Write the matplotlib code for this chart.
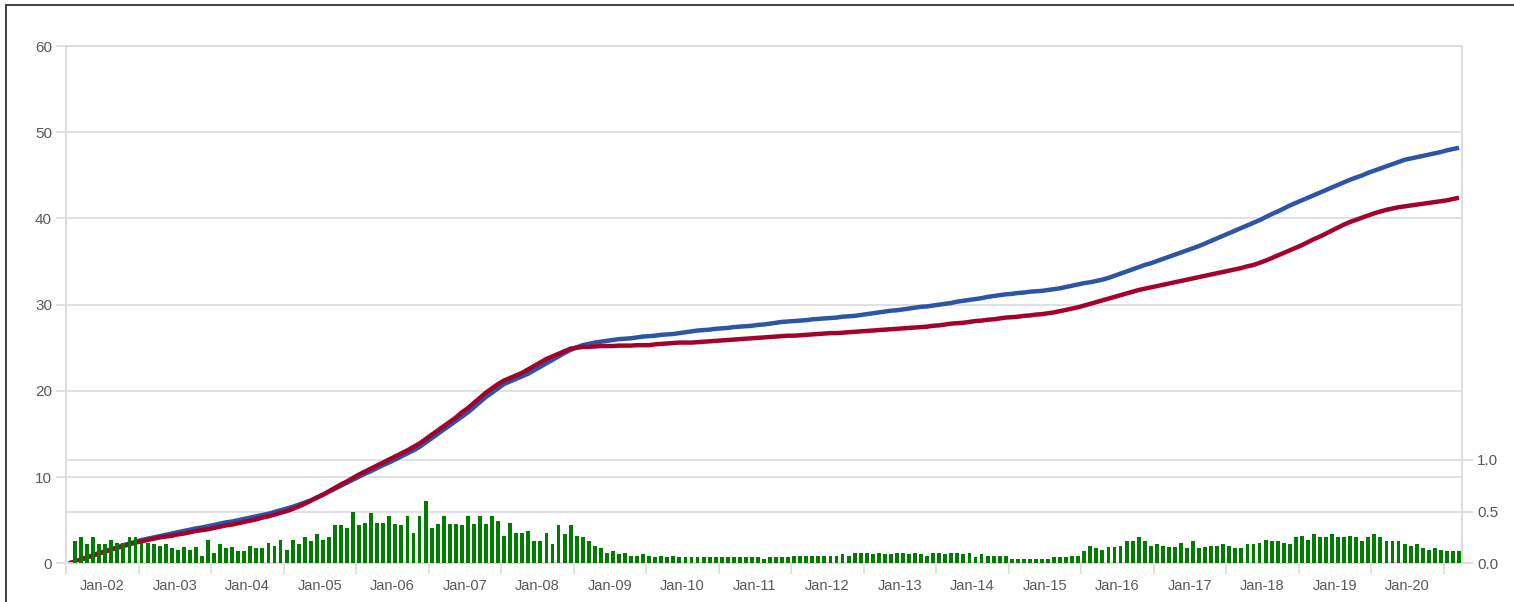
import numpy as np
import matplotlib
matplotlib.use("Agg")
import matplotlib.pyplot as plt
from matplotlib.patches import Rectangle

plt.rcParams['font.family'] = ['Liberation Sans', 'DejaVu Sans']

# ---------------- data (monthly, index 0 = first month) ----------------
year_labels = ['Jan-%02d' % y for y in range(2, 21)]

blue_line = [
    0.0, 0.2, 0.45, 0.7, 0.95, 1.2, 1.4, 1.65, 1.85, 2.1,
    2.3, 2.5, 2.7, 2.85, 3.0, 3.15, 3.3, 3.45, 3.6, 3.75,
    3.9, 4.05, 4.15, 4.3, 4.45, 4.6, 4.75, 4.85, 5.0, 5.15,
    5.3, 5.45, 5.6, 5.75, 5.95, 6.15, 6.35, 6.55, 6.8, 7.05,
    7.3, 7.65, 7.95, 8.3, 8.65, 9.0, 9.35, 9.7, 10.05, 10.4,
    10.7, 11.05, 11.4, 11.7, 12.05, 12.4, 12.75, 13.1, 13.5, 14.0,
    14.5, 15.0, 15.5, 16.0, 16.5, 17.0, 17.5, 18.1, 18.7, 19.3,
    19.8, 20.3, 20.8, 21.1, 21.4, 21.7, 22.0, 22.4, 22.8, 23.2,
    23.6, 24.0, 24.4, 24.75, 25.05, 25.3, 25.45, 25.6, 25.7, 25.8,
    25.9, 26.0, 26.05, 26.1, 26.2, 26.3, 26.35, 26.4, 26.5, 26.55,
    26.6, 26.7, 26.8, 26.9, 27.0, 27.05, 27.1, 27.2, 27.25, 27.3,
    27.4, 27.45, 27.5, 27.55, 27.65, 27.7, 27.8, 27.9, 28.0, 28.05,
    28.1, 28.15, 28.2, 28.3, 28.35, 28.4, 28.45, 28.5, 28.6, 28.65,
    28.7, 28.8, 28.9, 29.0, 29.1, 29.2, 29.3, 29.35, 29.45, 29.55,
    29.65, 29.75, 29.8, 29.9, 30.0, 30.1, 30.2, 30.35, 30.45, 30.55,
    30.65, 30.75, 30.9, 31.0, 31.1, 31.2, 31.25, 31.35, 31.4, 31.5,
    31.55, 31.6, 31.7, 31.8, 31.9, 32.05, 32.2, 32.35, 32.5, 32.6,
    32.75, 32.9, 33.1, 33.35, 33.6, 33.85, 34.1, 34.35, 34.6, 34.8,
    35.05, 35.3, 35.55, 35.8, 36.05, 36.3, 36.55, 36.8, 37.1, 37.4,
    37.7, 38.0, 38.3, 38.6, 38.9, 39.2, 39.5, 39.8, 40.15, 40.5,
    40.8, 41.15, 41.5, 41.8, 42.1, 42.4, 42.7, 43.0, 43.3, 43.6,
    43.9, 44.2, 44.5, 44.75, 45.0, 45.3, 45.55, 45.8, 46.05, 46.3,
    46.55, 46.8, 46.95, 47.1, 47.25, 47.4, 47.55, 47.7, 47.9, 48.05,
    48.2,
]

red_line = [
    0.0, 0.2, 0.45, 0.7, 0.9, 1.15, 1.35, 1.6, 1.8, 2.0,
    2.2, 2.4, 2.55, 2.7, 2.85, 3.0, 3.1, 3.2, 3.35, 3.45,
    3.6, 3.75, 3.85, 3.95, 4.1, 4.25, 4.4, 4.5, 4.65, 4.8,
    4.95, 5.1, 5.3, 5.45, 5.65, 5.85, 6.05, 6.3, 6.6, 6.9,
    7.25, 7.6, 7.95, 8.35, 8.75, 9.15, 9.5, 9.9, 10.3, 10.65,
    11.0, 11.35, 11.7, 12.05, 12.4, 12.75, 13.1, 13.5, 13.9, 14.4,
    14.9, 15.4, 15.9, 16.4, 16.9, 17.5, 18.0, 18.6, 19.2, 19.8,
    20.3, 20.8, 21.2, 21.5, 21.8, 22.1, 22.5, 22.9, 23.3, 23.7,
    24.0, 24.3, 24.6, 24.9, 25.0, 25.1, 25.1, 25.15, 25.2, 25.2,
    25.2, 25.25, 25.25, 25.25, 25.3, 25.3, 25.3, 25.4, 25.45, 25.5,
    25.55, 25.6, 25.6, 25.6, 25.65, 25.7, 25.75, 25.8, 25.85, 25.9,
    25.95, 26.0, 26.05, 26.1, 26.15, 26.2, 26.25, 26.3, 26.35, 26.4,
    26.4, 26.45, 26.5, 26.55, 26.6, 26.65, 26.7, 26.7, 26.75, 26.8,
    26.85, 26.9, 26.95, 27.0, 27.05, 27.1, 27.15, 27.2, 27.25, 27.3,
    27.35, 27.4, 27.45, 27.55, 27.6, 27.7, 27.8, 27.85, 27.9, 28.0,
    28.1, 28.15, 28.25, 28.3, 28.4, 28.5, 28.55, 28.6, 28.7, 28.75,
    28.85, 28.9, 29.0, 29.1, 29.25, 29.4, 29.55, 29.7, 29.9, 30.1,
    30.3, 30.5, 30.7, 30.9, 31.1, 31.3, 31.5, 31.7, 31.85, 32.0,
    32.15, 32.3, 32.45, 32.6, 32.75, 32.9, 33.05, 33.2, 33.35, 33.5,
    33.65, 33.8, 33.95, 34.1, 34.25, 34.45, 34.6, 34.85, 35.1, 35.4,
    35.7, 36.0, 36.3, 36.6, 36.9, 37.25, 37.6, 37.9, 38.25, 38.6,
    38.95, 39.3, 39.6, 39.85, 40.1, 40.35, 40.6, 40.8, 41.0, 41.15,
    41.3, 41.4, 41.5, 41.6, 41.7, 41.8, 41.9, 42.0, 42.1, 42.25,
    42.4,
]

# monthly bars (right axis); first month has no bar
green_bars = [
    np.nan,
    0.22, 0.25, 0.19, 0.25, 0.19, 0.19, 0.23, 0.20, 0.20, 0.25,
    0.25, 0.20, 0.20, 0.19, 0.17, 0.19, 0.15, 0.13, 0.16, 0.13,
    0.16, 0.07, 0.23, 0.10, 0.19, 0.15, 0.16, 0.12, 0.12, 0.17,
    0.15, 0.15, 0.20, 0.17, 0.23, 0.13, 0.23, 0.19, 0.25, 0.22,
    0.28, 0.23, 0.25, 0.37, 0.37, 0.34, 0.50, 0.37, 0.39, 0.49,
    0.39, 0.39, 0.46, 0.38, 0.37, 0.46, 0.29, 0.46, 0.60, 0.34,
    0.38, 0.46, 0.38, 0.38, 0.37, 0.46, 0.38, 0.46, 0.38, 0.46,
    0.41, 0.26, 0.39, 0.29, 0.29, 0.31, 0.22, 0.22, 0.29, 0.19,
    0.37, 0.28, 0.37, 0.26, 0.25, 0.22, 0.17, 0.15, 0.10, 0.12,
    0.09, 0.10, 0.07, 0.07, 0.09, 0.07, 0.06, 0.07, 0.06, 0.07,
    0.06, 0.06, 0.06, 0.06, 0.06, 0.06, 0.06, 0.06, 0.06, 0.06,
    0.06, 0.06, 0.06, 0.06, 0.04, 0.06, 0.06, 0.06, 0.06, 0.07,
    0.07, 0.07, 0.07, 0.07, 0.07, 0.07, 0.07, 0.09, 0.07, 0.10,
    0.10, 0.10, 0.09, 0.10, 0.09, 0.09, 0.10, 0.10, 0.09, 0.10,
    0.09, 0.07, 0.10, 0.10, 0.09, 0.10, 0.10, 0.09, 0.10, 0.06,
    0.09, 0.07, 0.07, 0.07, 0.07, 0.04, 0.04, 0.04, 0.04, 0.04,
    0.04, 0.04, 0.06, 0.06, 0.06, 0.07, 0.07, 0.12, 0.17, 0.15,
    0.13, 0.16, 0.16, 0.17, 0.22, 0.22, 0.25, 0.22, 0.17, 0.19,
    0.17, 0.16, 0.16, 0.20, 0.15, 0.22, 0.15, 0.16, 0.17, 0.17,
    0.19, 0.17, 0.15, 0.15, 0.19, 0.19, 0.20, 0.23, 0.22, 0.22,
    0.20, 0.19, 0.25, 0.26, 0.23, 0.28, 0.25, 0.25, 0.28, 0.25,
    0.25, 0.26, 0.25, 0.22, 0.25, 0.28, 0.25, 0.22, 0.22, 0.22,
    0.19, 0.17, 0.19, 0.15, 0.13, 0.15, 0.13, 0.12, 0.12, 0.12,
]

left_ticks = [0, 10, 20, 30, 40, 50, 60]
right_ticks = [0.0, 0.5, 1.0]
right_max = 5.0

# ---------------- styling ----------------
BLUE = '#2d55a6'
RED = '#a3022c'
GREEN = '#007d00'
GRID = '#dcdcdc'
TXT = '#595959'

W, H = 1514, 602
fig = plt.figure(figsize=(W / 100, H / 100), dpi=100)
L, R, T, B = 66, 1462, 46, 563.3
ax = fig.add_axes([L / W, 1 - B / H, (R - L) / W, (B - T) / H])
ax2 = ax.twinx()

n = len(red_line)
x = np.arange(n)

ax.plot(x, blue_line, color=BLUE, lw=3.2, solid_capstyle='butt', zorder=3)
ax.plot(x, red_line, color=RED, lw=3.2, solid_capstyle='butt', zorder=4)

ax2.bar(x, green_bars, width=0.64, color=GREEN, zorder=3)

ax.set_xlim(-0.5, n - 0.5)
ax.set_ylim(left_ticks[0], left_ticks[-1])
ax2.set_ylim(0, right_max)

# left axis
ax.set_yticks(left_ticks)
ax.set_yticklabels([str(v) for v in left_ticks])
ax.yaxis.grid(True, color=GRID, lw=1.2)
for v in right_ticks[1:]:
    ax.axhline(v * left_ticks[-1] / right_max, color=GRID, lw=1.2, zorder=0.5)
ax.set_axisbelow(True)

# right axis
ax2.set_yticks(right_ticks)
ax2.set_yticklabels(['%.1f' % v for v in right_ticks])

# x axis: tick marks at year boundaries, labels centred in each year
nyears = len(year_labels)
ax.set_xticks([-0.5 + 12 * i for i in range(nyears + 1)])
ax.set_xticklabels([])
ax.set_xticks([5.5 + 12 * i for i in range(nyears)], minor=True)
ax.set_xticklabels(year_labels, minor=True)
ax.tick_params(axis='x', which='major', length=8, width=1.2, color=GRID)
ax.tick_params(axis='x', which='minor', length=0, pad=11, labelsize=10.5, labelcolor=TXT)
ax.tick_params(axis='y', length=7, width=1.2, color=GRID, labelsize=11, labelcolor=TXT, pad=3)
ax2.tick_params(axis='y', length=8, width=1.2, color=GRID, labelsize=11, labelcolor=TXT, pad=3)

for a in (ax, ax2):
    for s in a.spines.values():
        s.set_color(GRID)
        s.set_linewidth(1.2)
    a.spines['top'].set_visible(True)

# outer frame
fig.patches.append(Rectangle((6 / W, -0.1), 1.2, 1.1 - 5 / H, transform=fig.transFigure,
                             fill=False, edgecolor='#333333', lw=1.3))

fig.savefig('out.png', dpi=100)
